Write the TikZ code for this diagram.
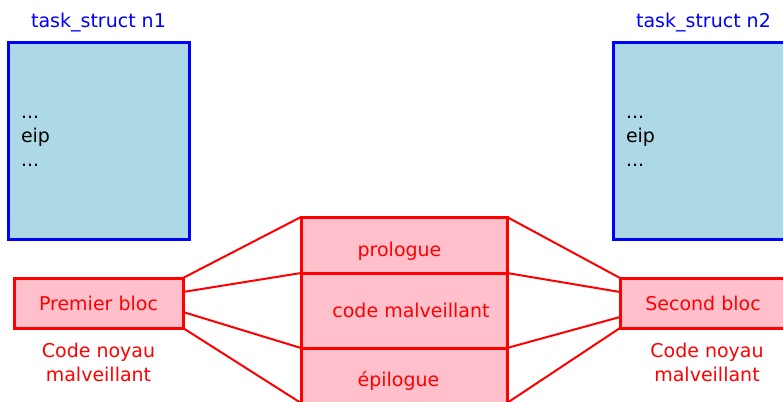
\documentclass[tikz,border=0pt]{standalone}
\usepackage{fontspec}
\setmainfont{DejaVu Sans}
\usetikzlibrary{positioning}
\definecolor{taskfill}{RGB}{173,216,230}
\definecolor{blocfill}{RGB}{255,192,203}
\begin{document}
\begin{tikzpicture}[x=1pt, y=-1pt, font=\fontsize{19}{24}\selectfont,
  taskbox/.style={draw=blue, fill=taskfill, line width=3pt, outer sep=0pt,
    minimum width=181pt, minimum height=196pt, anchor=north west,
    align=left, text width=155pt, inner xsep=13pt},
  tasktitle/.style={text=blue},
  blocbox/.style={draw=red, fill=blocfill, text=red, line width=3pt, outer sep=0pt,
    minimum height=50pt, anchor=north west},
  partbox/.style={draw=red, fill=blocfill, text=red, line width=3pt, outer sep=0pt,
    minimum width=206pt},
  blocnote/.style={text=red, align=center},
  wire/.style={draw=red, line width=2pt}]
% Fix the page to the reference size
\useasboundingbox (0,0) rectangle (783,401);
\clip (0,0) rectangle (783,401);

% The two task_struct
\node[taskbox] (tsone) at (8,43) {...\\eip\\...};
\node[tasktitle, above=7pt of tsone] (tsonetitle) {task\_struct n1};
\node[taskbox] (tstwo) at (613,43) {...\\eip\\...};
\node[tasktitle, above=7pt of tstwo] (tstwotitle) {task\_struct n2};

% The two blocks of kernel code
\node[blocbox, minimum width=169pt] (premier) at (14,278) {Premier bloc};
\node[blocnote, below=12pt of premier] (premiernote) {Code noyau\\malveillant};
\node[blocbox, minimum width=166pt] (second) at (620,278) {Second bloc};
\node[blocnote, below=12pt of second, xshift=4pt] (secondnote) {Code noyau\\malveillant};

% The injected code in the middle (texts a bit off centre, as drawn)
\node[partbox, minimum height=56pt, anchor=north west, text height=26pt, text depth=4pt]
  (prologue) at (301,217) {prologue\hspace*{9pt}};
\node[partbox, minimum height=75pt, below=0pt of prologue]
  (malcode) {\hspace*{14pt}code malveillant};
\node[partbox, minimum height=55pt, below=0pt of malcode, text height=26pt, text depth=4pt]
  (epilogue) {épilogue\hspace*{11pt}};

% Links
\draw[wire] (premier.north east) -- (prologue.north west);
\draw[wire] ([yshift=11pt]premier.east) -- (prologue.south west);
\draw[wire] ([yshift=-9pt]premier.east) -- (epilogue.north west);
\draw[wire] (premier.south east) -- (epilogue.south west);
\draw[wire] (prologue.north east) -- (second.north west);
\draw[wire] (prologue.south east) -- ([yshift=11pt]second.west);
\draw[wire] (epilogue.north east) -- ([yshift=-14pt]second.west);
\draw[wire] (epilogue.south east) -- (second.south west);
\end{tikzpicture}
\end{document}
